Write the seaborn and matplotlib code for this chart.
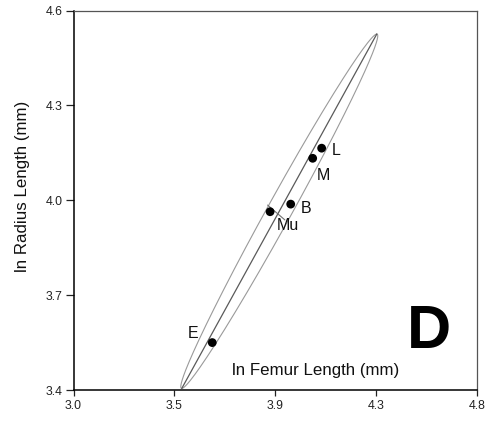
import numpy as np
import pandas as pd
import matplotlib
matplotlib.use("Agg")
import matplotlib.pyplot as plt
import seaborn as sns

# --- data ---
taxa = ["E", "Mu", "B", "M", "L"]
ln_femur = [3.619, 3.877, 3.969, 4.067, 4.107]
ln_radius = [3.550, 3.964, 3.988, 4.133, 4.165]

# label positions (data coords)
label_x = [3.534, 3.958, 4.037, 4.114, 4.174]
label_y = [3.579, 3.919, 3.975, 4.080, 4.159]

# regression line end points
line_femur = [3.483, 4.353]
line_radius = [3.405, 4.526]

# short cross segment near Mu
cross_femur = [3.866, 3.943]
cross_radius = [3.985, 3.938]

# ellipse: half-width measured horizontally at the centre (data units)
ellipse_halfwidth = 0.062

xticks = [3.0, 3.45, 3.9, 4.35, 4.8]
xticklabels = ["3.0", "3.5", "3.9", "4.3", "4.8"]
yticks = [3.4, 3.7, 4.0, 4.3, 4.6]
yticklabels = ["3.4", "3.7", "4.0", "4.3", "4.6"]

sns.set_style("ticks")
plt.rcParams["font.family"] = ["Liberation Sans", "DejaVu Sans"]

fig = plt.figure(figsize=(4.95, 4.23), dpi=100)
ax = fig.add_axes([0.1485, 0.078, 0.8151, 0.8968])

# confidence ellipse (conjugate-diameter parametrisation around the line)
c = np.array([np.mean(line_femur), np.mean(line_radius)])
d = np.array([(line_femur[1] - line_femur[0]) / 2, (line_radius[1] - line_radius[0]) / 2])
w = np.array([ellipse_halfwidth, 0.0])
t = np.linspace(0, 2 * np.pi, 400)
ell = c[:, None] + np.outer(d, np.cos(t)) + np.outer(w, np.sin(t))
ax.plot(ell[0], ell[1], color="#9a9a9a", lw=0.8, zorder=1)

line_df = pd.DataFrame({"femur": line_femur, "radius": line_radius})
sns.lineplot(data=line_df, x="femur", y="radius", ax=ax, color="#5a5a5a",
             lw=0.9, sort=False, zorder=2)
ax.plot(cross_femur, cross_radius, color="#707070", lw=0.8, zorder=2)

df = pd.DataFrame({"taxon": taxa, "femur": ln_femur, "radius": ln_radius})
sns.scatterplot(data=df, x="femur", y="radius", ax=ax, color="black", s=40,
                edgecolor="none", zorder=3)

for lab, lx, ly in zip(taxa, label_x, label_y):
    ax.text(lx, ly, lab, fontsize=11.5, ha="center", va="center", color="#111111")

ax.text(4.586, 3.583, "D", fontsize=44, fontweight="bold", ha="center",
        va="center", color="black")
ax.text(4.082, 3.463, "ln Femur Length (mm)", fontsize=12.2, ha="center",
        va="center", color="#111111")

ax.set_xlim(3.0, 4.8)
ax.set_ylim(3.4, 4.6)
ax.set_xticks(xticks)
ax.set_xticklabels(xticklabels)
ax.set_yticks(yticks)
ax.set_yticklabels(yticklabels)
ax.tick_params(labelsize=8.8, width=0.9, colors="#222222")
ax.tick_params(axis="x", length=4.5, pad=3)
ax.tick_params(axis="y", length=6, pad=2)
ax.set_xlabel("")
ax.set_ylabel("ln Radius Length (mm)", fontsize=12.2, color="#111111")
ax.yaxis.set_label_coords(-0.1276, 0.536)
ax.yaxis.label.set_va("center")

for side in ["left", "bottom"]:
    ax.spines[side].set_color("black")
    ax.spines[side].set_linewidth(1.1)
for side in ["top", "right"]:
    ax.spines[side].set_visible(True)
    ax.spines[side].set_color("#555555")
    ax.spines[side].set_linewidth(0.9)

fig.savefig("out.png", dpi=100, facecolor="white")
